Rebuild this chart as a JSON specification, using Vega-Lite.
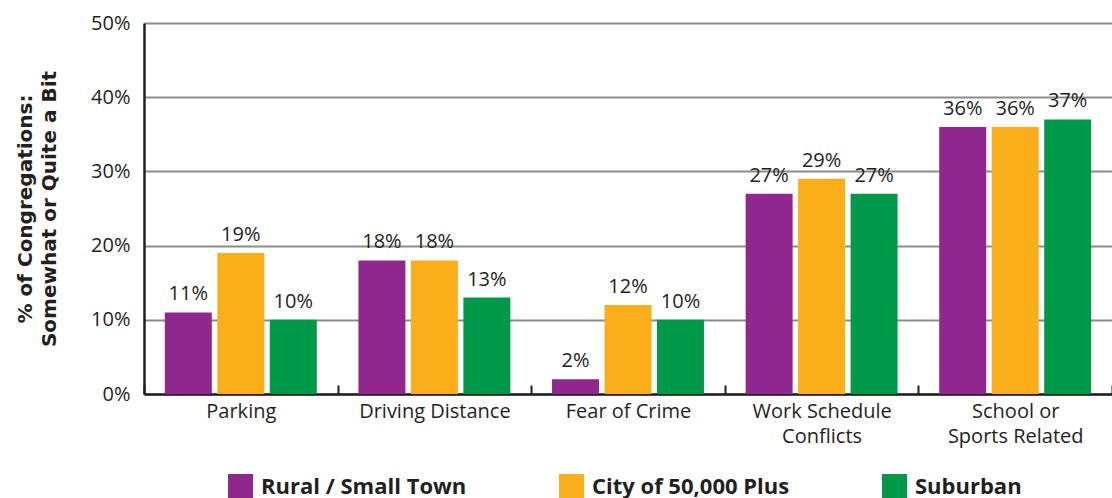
{
  "$schema": "https://vega.github.io/schema/vega-lite/v6.json",
  "width": 968,
  "height": 371,
  "autosize": {"type": "none"},
  "padding": {"left": 144, "top": 23, "right": 0, "bottom": 104},
  "background": "white",
  "config": {
    "view": {"stroke": null},
    "font": "Open Sans"
  },
  "data": {
    "values": [
      {"category": "Parking", "type": "Rural / Small Town", "value": 0.11},
      {"category": "Parking", "type": "City of 50,000 Plus", "value": 0.19},
      {"category": "Parking", "type": "Suburban", "value": 0.10},
      {"category": "Driving Distance", "type": "Rural / Small Town", "value": 0.18},
      {"category": "Driving Distance", "type": "City of 50,000 Plus", "value": 0.18},
      {"category": "Driving Distance", "type": "Suburban", "value": 0.13},
      {"category": "Fear of Crime", "type": "Rural / Small Town", "value": 0.02},
      {"category": "Fear of Crime", "type": "City of 50,000 Plus", "value": 0.12},
      {"category": "Fear of Crime", "type": "Suburban", "value": 0.10},
      {"category": "Work Schedule Conflicts", "type": "Rural / Small Town", "value": 0.27},
      {"category": "Work Schedule Conflicts", "type": "City of 50,000 Plus", "value": 0.29},
      {"category": "Work Schedule Conflicts", "type": "Suburban", "value": 0.27},
      {"category": "School or Sports Related", "type": "Rural / Small Town", "value": 0.36},
      {"category": "School or Sports Related", "type": "City of 50,000 Plus", "value": 0.36},
      {"category": "School or Sports Related", "type": "Suburban", "value": 0.37}
    ]
  },
  "encoding": {
    "x": {
      "field": "category",
      "type": "nominal",
      "sort": null,
      "scale": {"paddingInner": 0, "paddingOuter": 0},
      "axis": {
        "title": null,
        "labelAngle": 0,
        "labelFont": "Open Sans",
        "labelFontSize": 20,
        "labelColor": "#231f20",
        "labelPadding": 16,
        "labelLineHeight": 25,
        "labelExpr": "datum.value == 'Work Schedule Conflicts' ? ['Work Schedule', 'Conflicts'] : datum.value == 'School or Sports Related' ? ['School or', 'Sports Related'] : datum.value",
        "domainColor": "#231f20",
        "domainWidth": 2.5,
        "tickBand": "extent",
        "tickColor": "#231f20",
        "tickWidth": 2,
        "tickSize": -9,
        "grid": false
      }
    },
    "xOffset": {
      "field": "type",
      "type": "nominal",
      "sort": ["Rural / Small Town", "City of 50,000 Plus", "Suburban"],
      "scale": {"paddingInner": 0.105, "paddingOuter": 0.397}
    },
    "y": {
      "field": "value",
      "type": "quantitative",
      "scale": {"domain": [0, 0.5], "nice": false},
      "axis": {
        "format": ".0%",
        "values": [0, 0.1, 0.2, 0.3, 0.4, 0.5],
        "title": ["% of Congregations:", "Somewhat or Quite a Bit"],
        "titleFont": "DejaVu Sans",
        "titleFontSize": 20,
        "titleFontWeight": "bold",
        "titleColor": "#231f20",
        "titleLineHeight": 24,
        "titlePadding": 31,
        "labelFont": "Open Sans",
        "labelFontSize": 20,
        "labelColor": "#231f20",
        "labelPadding": 14,
        "ticks": false,
        "domainColor": "#231f20",
        "domainWidth": 2.5,
        "grid": true,
        "gridColor": "#8c8c8c",
        "gridWidth": 2
      }
    }
  },
  "layer": [
    {
      "mark": {"type": "bar"},
      "encoding": {
        "color": {
          "field": "type",
          "type": "nominal",
          "scale": {
            "domain": ["Rural / Small Town", "City of 50,000 Plus", "Suburban"],
            "range": ["#90278e", "#faaf1a", "#00994a"]
          },
          "legend": {
            "title": null,
            "orient": "none",
            "direction": "horizontal",
            "legendX": 84,
            "legendY": 451,
            "symbolType": "square",
            "symbolSize": 625,
            "symbolStrokeWidth": 0,
            "symbolOpacity": 1,
            "labelFont": "Open Sans",
            "labelFontSize": 22,
            "labelFontWeight": "bold",
            "labelColor": "#231f20",
            "labelOffset": 8,
            "labelLimit": 400,
            "columnPadding": 92
          }
        }
      }
    },
    {
      "mark": {"type": "text", "baseline": "bottom", "dy": -8, "font": "Open Sans", "fontSize": 20, "color": "#231f20"},
      "encoding": {
        "text": {"field": "value", "type": "quantitative", "format": ".0%"}
      }
    }
  ]
}
